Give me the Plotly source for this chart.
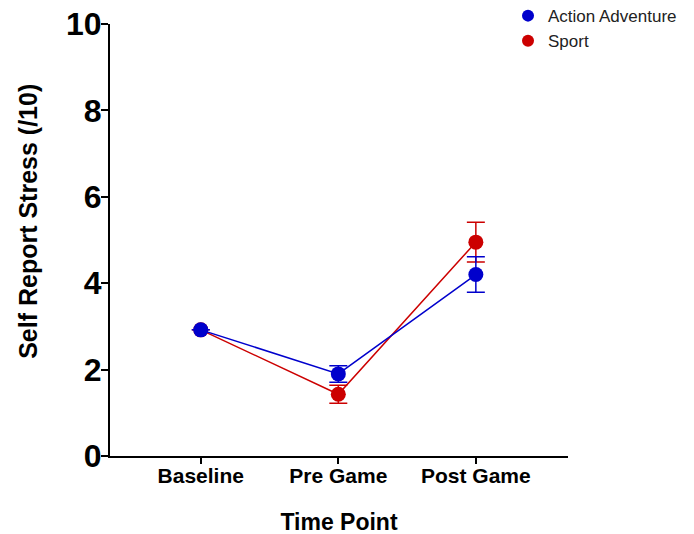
import plotly.graph_objects as go

categories = ["Baseline", "Pre Game", "Post Game"]
action_vals = [2.92, 1.90, 4.20]
action_err = [0.0, 0.19, 0.41]
sport_vals = [2.92, 1.43, 4.95]
sport_err = [0.0, 0.21, 0.46]
y_ticks = [0, 2, 4, 6, 8, 10]

BLUE = "#0000CC"
RED = "#CC0000"
FONT = "Liberation Sans, Arial, sans-serif"

fig = go.Figure()
x_idx = list(range(len(categories)))
fig.add_trace(go.Scatter(
    x=x_idx, y=sport_vals, name="Sport", mode="lines+markers",
    line=dict(color=RED, width=1.5),
    marker=dict(color=RED, size=15),
    error_y=dict(type="data", array=sport_err, color=RED, thickness=1.5, width=9),
    showlegend=False,
))
fig.add_trace(go.Scatter(
    x=x_idx, y=action_vals, name="Action Adventure", mode="lines+markers",
    line=dict(color=BLUE, width=1.5),
    marker=dict(color=BLUE, size=15),
    error_y=dict(type="data", array=action_err, color=BLUE, thickness=1.5, width=9),
    showlegend=False,
))
# legend entries (ordered as in reference)
fig.add_trace(go.Scatter(x=[None], y=[None], mode="markers", name="Action Adventure",
                         marker=dict(color=BLUE, size=15)))
fig.add_trace(go.Scatter(x=[None], y=[None], mode="markers", name="Sport",
                         marker=dict(color=RED, size=15)))

fig.update_layout(
    width=694, height=534,
    margin=dict(l=102, r=134, t=16, b=86, autoexpand=False),
    plot_bgcolor="white", paper_bgcolor="white",
    font=dict(family=FONT, color="black"),
    legend=dict(x=0.869, y=1.06, xanchor="left", yanchor="top",
                font=dict(size=17, family=FONT, color="#222"),
                bgcolor="rgba(0,0,0,0)", itemsizing="constant",
                tracegroupgap=0),
    annotations=[dict(
        text="Self Report Stress (/10)", textangle=-90, showarrow=False,
        xref="paper", yref="paper", x=-0.179, y=0.542,
        xanchor="center", yanchor="middle",
        font=dict(size=25, family=FONT, color="black", weight="bold"),
    )],
)
fig.update_xaxes(
    range=[-0.66, 2.67], tickmode="array", tickvals=x_idx, ticktext=categories,
    showline=True, linecolor="black", linewidth=2, showgrid=False, zeroline=False,
    ticks="outside", ticklen=6, tickwidth=2, tickcolor="black", ticklabelstandoff=-6,
    ticklabeloverflow="allow",
    tickfont=dict(size=21, family=FONT, color="black", weight="bold"),
    title=dict(text="Time Point", font=dict(size=23, family=FONT, color="black", weight="bold"), standoff=28),
)
fig.update_yaxes(
    range=[0, 10], tickmode="array", tickvals=y_ticks,
    showline=True, linecolor="black", linewidth=2, showgrid=False, zeroline=False,
    ticks="outside", ticklen=7, tickwidth=2, tickcolor="black", ticklabelstandoff=-7,
    ticklabeloverflow="allow",
    tickfont=dict(size=32, family=FONT, color="black", weight="bold"),
)

fig.write_html("out.html")
